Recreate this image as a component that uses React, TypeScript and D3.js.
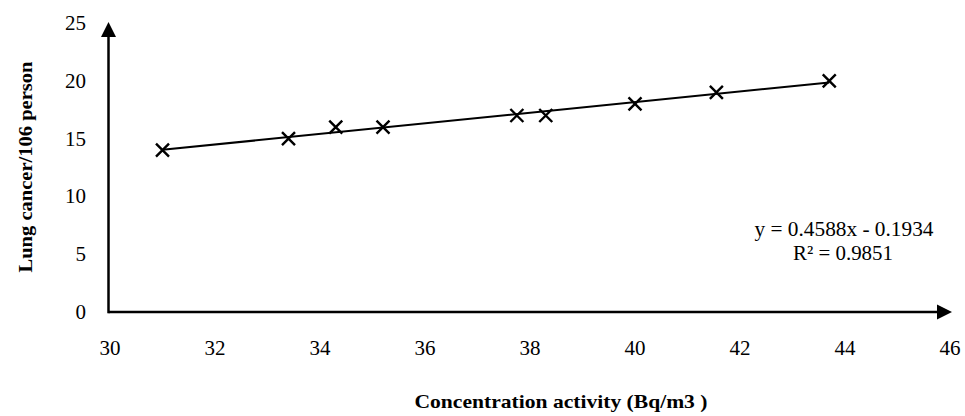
import React, { useRef, useEffect } from 'react';
import * as d3 from 'd3';

// measured points
const concentration: number[] = [31.0, 33.4, 34.3, 35.2, 37.75, 38.3, 40.0, 41.55, 43.7];
const lungCancer: number[] = [14, 15, 16, 16, 17, 17, 18, 19, 20];
const xTicks: number[] = [30, 32, 34, 36, 38, 40, 42, 44, 46];
const yTicks: number[] = [0, 5, 10, 15, 20, 25];
const slope = 0.4588;
const intercept = -0.1934;
const r2 = 0.9851;

const App: React.FC = () => {
  const svgRef = useRef<SVGSVGElement | null>(null);

  useEffect(() => {
    if (!svgRef.current) return;
    const width = 965;
    const height = 416;
    const margin = { top: 23, right: 15, bottom: 104, left: 110 };
    const font = '"Liberation Serif", "Times New Roman", serif';

    const x = d3.scaleLinear().domain([30, 46]).range([margin.left, width - margin.right]);
    const y = d3.scaleLinear().domain([0, 25]).range([height - margin.bottom, margin.top]);

    const svg = d3.select(svgRef.current).attr('width', width).attr('height', height);
    svg.selectAll('*').remove();

    const ax = x(30) - 1.5;
    const y0 = y(0);
    const head = 15;

    // axes with arrows
    svg.append('line')
      .attr('x1', ax).attr('y1', y0).attr('x2', x(46) - head + 2).attr('y2', y0)
      .attr('stroke', '#000').attr('stroke-width', 2.5);
    svg.append('path')
      .attr('d', `M${x(46) + 2},${y0} L${x(46) + 2 - head},${y0 - 7.5} L${x(46) + 2 - head},${y0 + 7.5} Z`)
      .attr('fill', '#000');
    svg.append('line')
      .attr('x1', ax).attr('y1', y0 + 1.25).attr('x2', ax).attr('y2', y(25) + head - 2)
      .attr('stroke', '#000').attr('stroke-width', 2.5);
    svg.append('path')
      .attr('d', `M${ax},${y(25) - 1} L${ax - 7.5},${y(25) - 1 + head} L${ax + 7.5},${y(25) - 1 + head} Z`)
      .attr('fill', '#000');

    // tick labels
    svg.append('g').selectAll('text').data(xTicks).join('text')
      .attr('x', d => x(d)).attr('y', y0 + 43)
      .attr('text-anchor', 'middle')
      .attr('font-family', font).attr('font-size', 21)
      .text(d => d);
    svg.append('g').selectAll('text').data(yTicks).join('text')
      .attr('x', 86).attr('y', d => y(d) + 7)
      .attr('text-anchor', 'end')
      .attr('font-family', font).attr('font-size', 21)
      .text(d => d);

    // trend line
    const xMin = d3.min(concentration) as number;
    const xMax = d3.max(concentration) as number;
    const line = d3.line<number>().x(d => x(d)).y(d => y(slope * d + intercept));
    svg.append('path')
      .datum([xMin, xMax])
      .attr('fill', 'none').attr('stroke', '#000').attr('stroke-width', 2)
      .attr('d', line);

    // markers
    const s = 6.5;
    const pts = concentration.map((c, i) => [x(c), y(lungCancer[i])]);
    svg.append('g').selectAll('path').data(pts).join('path')
      .attr('d', d => `M${d[0] - s},${d[1] - s} L${d[0] + s},${d[1] + s} M${d[0] - s},${d[1] + s} L${d[0] + s},${d[1] - s}`)
      .attr('stroke', '#000').attr('stroke-width', 2.4).attr('fill', 'none');

    // equation
    svg.append('text')
      .attr('x', 844).attr('y', 236)
      .attr('text-anchor', 'middle')
      .attr('font-family', font).attr('font-size', 21)
      .attr('textLength', 179).attr('lengthAdjust', 'spacingAndGlyphs')
      .text(`y = ${slope}x - ${Math.abs(intercept)}`);
    svg.append('text')
      .attr('x', 843).attr('y', 260)
      .attr('text-anchor', 'middle')
      .attr('font-family', font).attr('font-size', 21)
      .attr('textLength', 100).attr('lengthAdjust', 'spacingAndGlyphs')
      .text(`R² = ${r2}`);

    // axis titles
    svg.append('text')
      .attr('x', 561).attr('y', 408)
      .attr('text-anchor', 'middle')
      .attr('font-family', font).attr('font-size', 19).attr('font-weight', 'bold')
      .attr('textLength', 293).attr('lengthAdjust', 'spacingAndGlyphs')
      .text('Concentration activity  (Bq/m3 )');
    svg.append('text')
      .attr('transform', 'translate(32,167) rotate(-90)')
      .attr('text-anchor', 'middle')
      .attr('font-family', font).attr('font-size', 19).attr('font-weight', 'bold')
      .attr('textLength', 211).attr('lengthAdjust', 'spacingAndGlyphs')
      .text('Lung cancer/106 person');
  }, []);

  return <svg ref={svgRef} style={{ position: 'absolute', left: 0, top: 0 }}></svg>;
};

export default App;
